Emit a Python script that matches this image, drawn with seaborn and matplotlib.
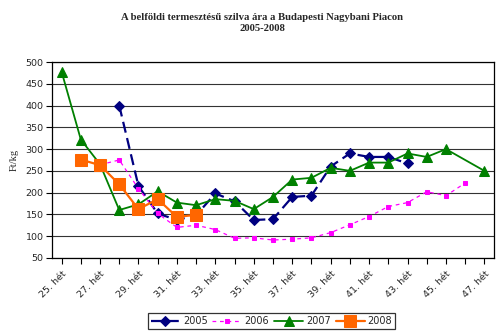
import matplotlib
matplotlib.use("Agg")
import matplotlib.pyplot as plt
import seaborn as sns
import pandas as pd
import numpy as np

# Weekly plum prices (Ft/kg) per year, by week number
weeks_2005 = [28, 29, 30, 31, 32, 33, 34, 35, 36, 37, 38, 39, 40, 41, 42, 43]
price_2005 = [400, 215, 152, 137, 148, 198, 180, 137, 139, 190, 193, 260, 290, 282, 282, 267]

weeks_2006 = [27, 28, 29, 30, 31, 32, 33, 34, 35, 36, 37, 38, 39, 40, 41, 42, 43, 44, 45, 46]
price_2006 = [264, 275, 209, 152, 120, 125, 115, 95, 96, 91, 93, 96, 108, 126, 145, 168, 177, 202, 193, 222]

weeks_2007 = [25, 26, 27, 28, 29, 30, 31, 32, 33, 34, 35, 36, 37, 38, 39, 40, 41, 42, 43, 44, 45, 47]
price_2007 = [478, 322, 265, 160, 173, 203, 177, 171, 185, 181, 162, 190, 230, 234, 257, 250, 269, 269, 290, 282, 300, 250]

weeks_2008 = [26, 27, 28, 29, 30, 31, 32]
price_2008 = [276, 263, 219, 162, 185, 144, 149]

week_ticks = list(range(25, 48))
tick_labels = [f"{w}. hét" if w % 2 == 1 else "" for w in week_ticks]

series = {
    "2005": (weeks_2005, price_2005),
    "2006": (weeks_2006, price_2006),
    "2007": (weeks_2007, price_2007),
    "2008": (weeks_2008, price_2008),
}
df = pd.concat(
    [pd.DataFrame({"week": w, "price": p, "year": y}) for y, (w, p) in series.items()],
    ignore_index=True,
)

styles = {
    "2005": dict(color="#000080", marker="D", markersize=5, lw=1.6, dashes=(5, 2.5)),
    "2006": dict(color="#FF00FF", marker="s", markersize=3.5, lw=0.9, dashes=(3, 3)),
    "2007": dict(color="#008000", marker="^", markersize=6.5, lw=1.3, dashes=None),
    "2008": dict(color="#FF6600", marker="s", markersize=9, lw=1.6, dashes=None),
}

sns.set_theme(style="white")
plt.rcParams["font.family"] = ["DejaVu Sans"]

fig = plt.figure(figsize=(5.0, 3.34), dpi=100)
ax = fig.add_axes([0.104, 0.228, 0.884, 0.586])

for year, st in styles.items():
    sub = df[df["year"] == year]
    kw = dict(
        data=sub, x="week", y="price", ax=ax, color=st["color"],
        marker=st["marker"], markersize=st["markersize"], linewidth=st["lw"],
        markeredgecolor=st["color"], markerfacecolor=st["color"],
        label=year, errorbar=None, sort=False,
    )
    if st["dashes"] is not None:
        kw["dashes"] = st["dashes"]
    sns.lineplot(**kw)

ax.set_xlim(24.5, 47.5)
ax.set_ylim(50, 500)
ax.set_yticks(np.arange(50, 501, 50))
ax.set_xticks(week_ticks)
ax.set_xticklabels(tick_labels, rotation=45, ha="right", rotation_mode="anchor",
                   fontsize=6.8)
ax.tick_params(axis="y", labelsize=6.8, direction="out", length=4, width=0.8,
               color="black", pad=2, left=True)
ax.tick_params(axis="x", direction="out", length=4, width=0.8, color="black",
               pad=4, bottom=True)

ax.yaxis.grid(True, color="#333333", linewidth=0.8)
ax.xaxis.grid(False)
ax.set_axisbelow(True)
for sp in ax.spines.values():
    sp.set_visible(True)
    sp.set_color("black")
    sp.set_linewidth(0.9)

ax.set_xlabel("")
ax.set_ylabel("Ft/kg", family="Liberation Serif", fontsize=7.5, labelpad=5)

fig.text(0.524, 0.93, "A belföldi termesztésű szilva ára a Budapesti Nagybani Piacon\n2005-2008",
         ha="center", va="center", family="Liberation Serif", fontweight="bold",
         fontsize=7.7, linespacing=1.3)

leg = ax.legend(loc="center", bbox_to_anchor=(0.543, 0.039), bbox_transform=fig.transFigure,
                ncol=4, frameon=True, fancybox=False, fontsize=7, handlelength=3.0,
                handletextpad=0.3, columnspacing=0.5, borderpad=0.3, edgecolor="black")
leg.get_frame().set_linewidth(0.9)

fig.savefig("out.png", dpi=100)
